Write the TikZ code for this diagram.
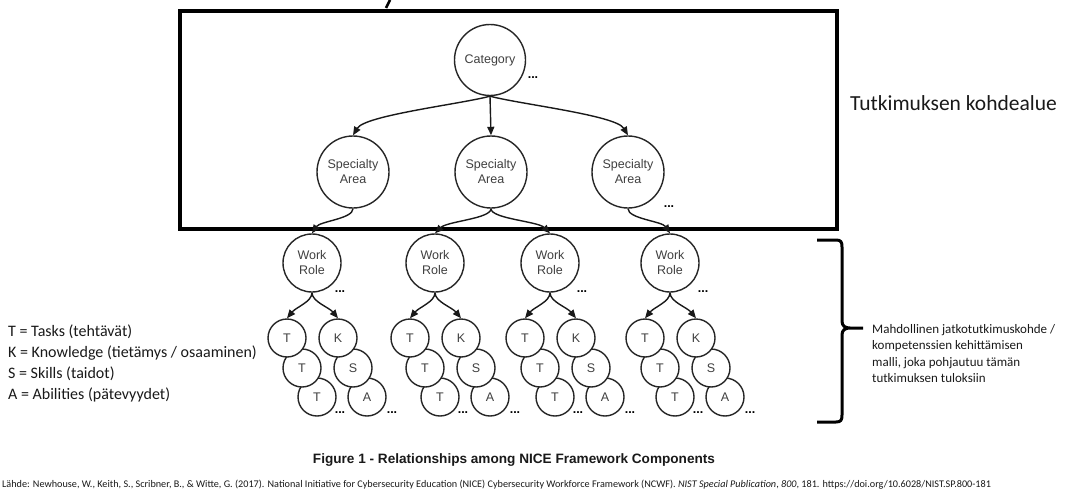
\documentclass[tikz,border=0pt]{standalone}
\usepackage{fontspec}
\setmainfont{Carlito}
\newfontfamily\arialfont{Liberation Sans}
\usetikzlibrary{arrows.meta}

\begin{document}
\begin{tikzpicture}[x=1pt,y=-1pt,
  bubble/.style={circle,draw=black!85,line width=1.4pt,fill=white,
    minimum size=#1,inner sep=0pt,align=center,text=black!75,
    font=\arialfont\fontsize{12.5}{15}\selectfont},
  letter/.style={bubble=38pt},
  more/.style={font=\arialfont\bfseries\fontsize{12.5}{12}\selectfont,inner sep=0pt},
  arr/.style={draw=black!90,line width=1.4pt,-{Triangle[length=8.5pt,width=7pt]}},
  plain/.style={inner sep=0pt,text=black!90}]
\useasboundingbox (0,0) rectangle (1081,503);

% stub of a letter cut by the top edge
\draw[line width=2.6pt] (390,0) -- (386,8);

% scope frame
\draw[line width=4pt] (180,11) rectangle (837,229);

% hierarchy
\node[bubble=71pt] (cat) at (490,60) {Category};
\node[more] (catm) at (533,78) {...};

\foreach \i/\x in {1/353,2/491,3/628}
  \node[bubble=72pt] (sa\i) at (\x,172) {Specialty\\Area};
\node[more] (sam) at (669,207) {...};

\foreach \i/\x in {1/312,2/435,3/550,4/670}{
  \node[bubble=58pt] (wr\i) at (\x,263) {Work\\Role};
  % task / knowledge / skill / ability stacks, lowest first
  \node[letter] (t3\i) at (\x+5,397) {T};
  \node[letter] (a\i)  at (\x+55,397) {A};
  \node[letter] (t2\i) at (\x-10,368) {T};
  \node[letter] (s\i)  at (\x+41,368) {S};
  \node[letter] (t1\i) at (\x-25,338) {T};
  \node[letter] (k\i)  at (\x+26,338) {K};
  \node[more] (tm\i) at (\x+28,413) {...};
  \node[more] (am\i) at (\x+80,413) {...};
  \draw[arr] (wr\i.south) .. controls +(0,9) and +(9,-11) .. (t1\i.north);
  \draw[arr] (wr\i.south) .. controls +(0,9) and +(-9,-11) .. (k\i.north);
}
\node[more] (wrm1) at (340,292) {...};
\node[more] (wrm3) at (582,292) {...};
\node[more] (wrm4) at (703,292) {...};

\draw[arr] (cat.south) .. controls +(-30,8) and +(12,-20) .. (sa1.north);
\draw[arr] (cat.south) -- (sa2.north);
\draw[arr] (cat.south) .. controls +(30,8) and +(-12,-20) .. (sa3.north);

\draw[arr] (sa1.south) .. controls +(0,10) and +(8,-12) .. (wr1.north);
\draw[arr] (sa2.south) .. controls +(0,10) and +(12,-12) .. (wr2.north);
\draw[arr] (sa2.south) .. controls +(0,10) and +(-12,-12) .. (wr3.north);
\draw[arr] (sa3.south) .. controls +(0,10) and +(-8,-12) .. (wr4.north);

% labels
\node[plain,anchor=base west,font=\fontsize{21.5}{24}\selectfont] (scope) at (850,110) {Tutkimuksen kohdealue};

\node[plain,anchor=north west,align=left,font=\fontsize{16}{21}\selectfont] (legend) at (8,325)
  {T = Tasks (tehtävät)\\K = Knowledge (tietämys / osaaminen)\\S = Skills (taidot)\\A = Abilities (pätevyydet)};

\draw[line width=3pt,line join=round]
  (817,240) -- (836,240) .. controls (841,240) and (842,242) .. (842,247)
  -- (842,321) .. controls (842,326) and (845,328) .. (850,328) -- (863,328)
  (850,328) .. controls (845,328) and (842,330) .. (842,335)
  -- (842,415) .. controls (842,420) and (841,422) .. (836,422) -- (817,422);

\node[plain,anchor=north west,align=left,font=\fontsize{13}{16.5}\selectfont] (future) at (872,324)
  {Mahdollinen jatkotutkimuskohde /\\kompetenssien kehittämisen\\malli, joka pohjautuu tämän\\tutkimuksen tuloksiin};

\node[plain,anchor=base,font=\arialfont\bfseries\fontsize{13.6}{15}\selectfont] (caption) at (514,463)
  {Figure 1 - Relationships among NICE Framework Components};

\node[plain,anchor=base west,font=\fontsize{10.2}{11}\selectfont] (source) at (2,487)
  {Lähde: Newhouse, W., Keith, S., Scribner, B., \& Witte, G. (2017). National Initiative for Cybersecurity Education (NICE) Cybersecurity Workforce Framework (NCWF). \textit{NIST Special Publication}, \textit{800}, 181. https://doi.org/10.6028/NIST.SP.800-181};
\end{tikzpicture}
\end{document}
